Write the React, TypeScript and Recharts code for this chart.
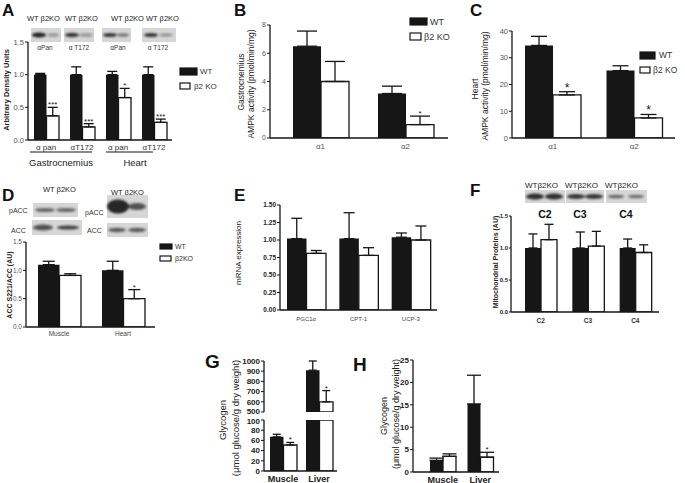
import React from "react";
import { BarChart, Bar, XAxis, YAxis, ErrorBar, LabelList } from "recharts";

const FONT = '"Liberation Sans", Arial, Helvetica, sans-serif';
const INK = "#161616";

// A: AMPK alpha protein (gastrocnemius, heart)
const aCats = ["α pan", "αT172", "α pan", "αT172"];
const aWt = [1.0, 1.0, 1.0, 1.0];
const aWtErr = [0.02, 0.12, 0.05, 0.12];
const aKo = [0.37, 0.2, 0.65, 0.27];
const aKoErr = [0.13, 0.05, 0.14, 0.05];
const aStars = ["***", "***", "*", "***"];
const aTicks = [0, 0.5, 1.0, 1.5];

// B: gastrocnemius AMPK activity
const bCats = ["α1", "α2"];
const bWt = [6.5, 3.15];
const bWtErr = [1.07, 0.52];
const bKo = [4.0, 0.95];
const bKoErr = [1.42, 0.6];
const bStars = ["", "*"];
const bTicks = [0, 2, 4, 6, 8];

// C: heart AMPK activity
const cCats = ["α1", "α2"];
const cWt = [34.6, 25.2];
const cWtErr = [3.4, 1.8];
const cKo = [16.1, 7.5];
const cKoErr = [1.2, 1.3];
const cStars = ["*", "*"];
const cTicks = [0, 10, 20, 30, 40];

// D: ACC S221/ACC
const dCats = ["Muscle", "Heart"];
const dWt = [1.1, 1.0];
const dWtErr = [0.06, 0.16];
const dKo = [0.91, 0.5];
const dKoErr = [0.03, 0.16];
const dStars = ["", "*"];
const dTicks = [0, 0.5, 1.0, 1.5];

// E: mRNA expression
const eCats = ["PGC1α", "CPT-1", "UCP-3"];
const eWt = [1.02, 1.02, 1.04];
const eWtErr = [0.29, 0.37, 0.06];
const eKo = [0.81, 0.78, 1.0];
const eKoErr = [0.04, 0.11, 0.2];
const eTicks = [0, 0.25, 0.5, 0.75, 1.0, 1.25, 1.5];

// F: mitochondrial proteins
const fCats = ["C2", "C3", "C4"];
const fWt = [1.0, 1.0, 1.0];
const fWtErr = [0.22, 0.25, 0.14];
const fKo = [1.13, 1.03, 0.93];
const fKoErr = [0.24, 0.23, 0.12];
const fTicks = [0, 0.5, 1.0, 1.5];

// G: glycogen (broken axis)
const gCats = ["Muscle", "Liver"];
const gWt = [67, 910];
const gWtErr = [5, 90];
const gKo = [51, 600];
const gKoErr = [5, 110];
const gStars = ["*", "*"];
const gTicksHigh = [500, 600, 700, 800, 900, 1000];
const gTicksLow = [0, 20, 40, 60, 80, 100];

// H: glycogen
const hCats = ["Muscle", "Liver"];
const hWt = [2.6, 15.2];
const hWtErr = [0.5, 6.4];
const hKo = [3.5, 3.3];
const hKoErr = [0.55, 1.1];
const hStars = ["", "*"];
const hTicks = [0, 5, 10, 15, 20, 25];

type Num = number | null;
type TextStyle = { size: number; bold?: boolean; color: string };

type PanelProps = {
  cats: string[];
  wt: Num[];
  wtErr: Num[];
  ko: Num[];
  koErr: Num[];
  stars?: string[];
  x0: number;
  y0: number;
  x1: number;
  y1: number;
  domain: [number, number];
  ticks: number[];
  digits: number;
  barSize: number;
  padL?: number;
  padR?: number;
  cap: number;
  tick: TextStyle & { len: number };
  cat?: TextStyle & { dy: number };
  starSize?: number;
  nudge?: Record<number, number>;
};

function Panel(p: PanelProps) {
  const YW = 44;
  const TOP = 14;
  const XH = 24;
  const RIGHT = 8;
  const data = p.cats.map((c, i) => ({
    i,
    wt: p.wt[i],
    ko: p.ko[i],
    wtErr: p.wt[i] == null || p.wtErr[i] == null ? null : [0, p.wtErr[i]],
    koErr: p.ko[i] == null || p.koErr[i] == null ? null : [0, p.koErr[i]],
    gap: p.ko[i] == null ? null : p.koErr[i] ?? 0,
    star: p.stars ? p.stars[i] : "",
  }));

  const yTick = (t: any) => (
    <text
      x={t.x}
      y={t.y + (p.nudge?.[t.payload.value] ?? 0)}
      dy="0.35em"
      textAnchor="end"
      fontSize={p.tick.size}
      fontWeight={p.tick.bold ? 700 : 400}
      fill={p.tick.color}
      fontFamily={FONT}
    >
      {Number(t.payload.value).toFixed(p.digits)}
    </text>
  );

  const xTick = (t: any) =>
    p.cat ? (
      <text
        x={t.x}
        y={t.y + p.cat.dy}
        textAnchor="middle"
        fontSize={p.cat.size}
        fontWeight={p.cat.bold ? 700 : 400}
        fill={p.cat.color}
        fontFamily={FONT}
      >
        {p.cats[t.payload.value]}
      </text>
    ) : (
      <g />
    );

  return (
    <div style={{ position: "absolute", left: p.x0 - YW, top: p.y0 - TOP }}>
      <BarChart
        width={p.x1 - p.x0 + YW + RIGHT}
        height={p.y1 - p.y0 + TOP + XH}
        data={data}
        margin={{ top: TOP, right: RIGHT, left: 0, bottom: 0 }}
        barGap={0}
        barSize={p.barSize}
      >
        <XAxis
          dataKey="i"
          type="category"
          interval={0}
          height={XH}
          padding={{ left: p.padL ?? 0, right: p.padR ?? 0 }}
          tickSize={0}
          tickMargin={0}
          tickLine={false}
          tick={xTick}
          axisLine={p.cat ? { stroke: INK, strokeWidth: 1.3 } : false}
        />
        <YAxis
          type="number"
          domain={p.domain}
          ticks={p.ticks}
          interval={0}
          allowDataOverflow
          width={YW}
          tickSize={p.tick.len}
          tickMargin={1}
          tick={yTick}
          tickLine={{ stroke: INK, strokeWidth: 1 }}
          axisLine={{ stroke: INK, strokeWidth: 1.3 }}
        />
        <Bar dataKey="wt" stackId="a_wt" fill={INK} isAnimationActive={false}>
          <ErrorBar dataKey="wtErr" width={p.cap} stroke={INK} strokeWidth={1.3} />
        </Bar>
        <Bar dataKey="ko" stackId="b_ko" fill="#fff" stroke={INK} strokeWidth={1.3} isAnimationActive={false}>
          <ErrorBar dataKey="koErr" width={p.cap} stroke={INK} strokeWidth={1.3} />
        </Bar>
        <Bar dataKey="gap" stackId="b_ko" fill="none" isAnimationActive={false}>
          <LabelList
            dataKey="star"
            position="top"
            offset={0}
            fill={INK}
            fontSize={p.starSize ?? 8}
            fontFamily={FONT}
          />
        </Bar>
      </BarChart>
    </div>
  );
}

// western-blot strip: bands are [x offset, rx, ry, darkness]
function Blot(props: { x: number; y: number; w: number; h: number; bands: number[][] }) {
  const { x, y, w, h, bands } = props;
  return (
    <g>
      <rect x={x} y={y} width={w} height={h} fill="#d6d6d6" />
      <g filter="url(#blur)">
        {bands.map((b, i) => (
          <ellipse key={i} cx={x + b[0]} cy={y + h / 2} rx={b[1]} ry={b[2]} fill="#1c1c1c" opacity={b[3]} />
        ))}
      </g>
    </g>
  );
}

function VText(props: { x: number; y: number; size: number; bold?: boolean; children: React.ReactNode }) {
  return (
    <text
      transform={`translate(${props.x},${props.y}) rotate(-90)`}
      textAnchor="middle"
      fontSize={props.size}
      fontWeight={props.bold ? 700 : 400}
      fill="#222"
    >
      {props.children}
    </text>
  );
}

function LegendKey(props: { x: number; y: number; w: number; h: number; filled: boolean; label: string; tx: number; size: number }) {
  return (
    <g>
      <rect
        x={props.x}
        y={props.y}
        width={props.w}
        height={props.h}
        fill={props.filled ? INK : "#fff"}
        stroke={INK}
        strokeWidth={1.2}
      />
      <text x={props.tx} y={props.y + props.h / 2} dy="0.35em" fontSize={props.size} fill="#333">
        {props.label}
      </text>
    </g>
  );
}

const tickGray = { size: 7.5, color: "#555", len: 3 };
const tickBold = { size: 8.5, bold: true, color: "#222", len: 3 };

export default function App() {
  const gHighWt = gWt.map((v) => (v > 500 ? v : null));
  const gHighKo = gKo.map((v) => (v > 500 ? v : null));
  const gHighWtErr = gWt.map((v, i) => (v > 500 ? gWtErr[i] : null));
  const gHighKoErr = gKo.map((v, i) => (v > 500 ? gKoErr[i] : null));
  const gHighStars = gKo.map((v, i) => (v > 500 ? gStars[i] : ""));
  const gLowWtErr = gWt.map((v, i) => (v <= 100 ? gWtErr[i] : null));
  const gLowKoErr = gKo.map((v, i) => (v <= 100 ? gKoErr[i] : null));
  const gLowStars = gKo.map((v, i) => (v <= 100 ? gStars[i] : ""));

  return (
    <div
      style={{
        position: "absolute",
        left: 0,
        top: 0,
        width: 685,
        height: 483,
        background: "#fff",
        fontFamily: FONT,
        overflow: "hidden",
      }}
    >
      <Panel
        cats={aCats} wt={aWt} wtErr={aWtErr} ko={aKo} koErr={aKoErr} stars={aStars}
        x0={28} y0={42} x1={172} y1={140} domain={[0, 1.5]} ticks={aTicks} digits={1}
        barSize={12.5} cap={5} tick={tickGray} starSize={8}
        cat={{ size: 8, color: "#333", dy: 10 }}
      />
      <Panel
        cats={bCats} wt={bWt} wtErr={bWtErr} ko={bKo} koErr={bKoErr} stars={bStars}
        x0={270} y0={25} x1={448} y1={138} padL={8} domain={[0, 8]} ticks={bTicks} digits={0}
        barSize={28} cap={10} tick={{ ...tickGray, size: 7 }} starSize={8}
        cat={{ size: 8, color: "#555", dy: 11 }}
      />
      <Panel
        cats={cCats} wt={cWt} wtErr={cWtErr} ko={cKo} koErr={cKoErr} stars={cStars}
        x0={512} y0={31} x1={675} y1={138} domain={[0, 40]} ticks={cTicks} digits={0}
        barSize={28} cap={8} tick={tickGray} starSize={12}
        cat={{ size: 8, color: "#555", dy: 11 }}
      />
      <Panel
        cats={dCats} wt={dWt} wtErr={dWtErr} ko={dKo} koErr={dKoErr} stars={dStars}
        x0={26} y0={242} x1={155} y1={327} padL={1} domain={[0, 1.5]} ticks={dTicks} digits={1}
        barSize={21.5} cap={6} tick={{ ...tickGray, size: 6.5 }} starSize={7}
        cat={{ size: 6.5, color: "#444", dy: 9 }}
      />
      <Panel
        cats={eCats} wt={eWt} wtErr={eWtErr} ko={eKo} koErr={eKoErr}
        x0={280} y0={205} x1={437} y1={310} domain={[0, 1.5]} ticks={eTicks} digits={2}
        barSize={19.5} cap={5.5} tick={{ ...tickBold, size: 6.5 }}
        cat={{ size: 6, color: "#444", dy: 11 }}
      />
      <Panel
        cats={fCats} wt={fWt} wtErr={fWtErr} ko={fKo} koErr={fKoErr}
        x0={511} y0={216} x1={659} y1={312} padL={6} domain={[0, 1.5]} ticks={fTicks} digits={1}
        barSize={16} cap={4.5} tick={{ ...tickBold, size: 6, len: 2 }}
        cat={{ size: 6.5, bold: true, color: "#333", dy: 11 }}
      />
      <Panel
        cats={gCats} wt={gHighWt} wtErr={gHighWtErr} ko={gHighKo} koErr={gHighKoErr} stars={gHighStars}
        x0={264} y0={361} x1={337} y1={412} padL={1} domain={[500, 1000]} ticks={gTicksHigh} digits={0}
        barSize={13.5} cap={4} tick={{ ...tickBold, size: 8 }} starSize={8} nudge={{ 500: -1.2 }}
      />
      <Panel
        cats={gCats} wt={gWt} wtErr={gLowWtErr} ko={gKo} koErr={gLowKoErr} stars={gLowStars}
        x0={264} y0={420} x1={337} y1={471} padL={1} domain={[0, 100]} ticks={gTicksLow} digits={0}
        barSize={13.5} cap={4} tick={{ ...tickBold, size: 8 }} starSize={8} nudge={{ 100: 1.2 }}
        cat={{ size: 9, bold: true, color: "#222", dy: 11 }}
      />
      <Panel
        cats={hCats} wt={hWt} wtErr={hWtErr} ko={hKo} koErr={hKoErr} stars={hStars}
        x0={413} y0={360} x1={499} y1={472} padL={11} domain={[0, 25]} ticks={hTicks} digits={0}
        barSize={13} cap={7} tick={{ ...tickBold, size: 8 }} starSize={8}
        cat={{ size: 9, bold: true, color: "#222", dy: 10.5 }}
      />

      <svg
        width={685}
        height={483}
        style={{ position: "absolute", left: 0, top: 0, pointerEvents: "none" }}
        fontFamily={FONT}
      >
        <defs>
          <filter id="blur" x="-30%" y="-60%" width="160%" height="220%">
            <feGaussianBlur stdDeviation="1.3" />
          </filter>
        </defs>

        {/* panel letters */}
        <g fontSize={17} fontWeight={700} fill="#111">
          <text x={2} y={16}>A</text>
          <text x={234} y={16}>B</text>
          <text x={470} y={16}>C</text>
          <text x={2} y={201}>D</text>
          <text x={234} y={201}>E</text>
          <text x={470} y={196}>F</text>
          <text x={205} y={368} fontSize={19}>G</text>
          <text x={353} y={371} fontSize={19}>H</text>
        </g>

        {/* A blots */}
        <g fontSize={7.5} fill="#222">
          <text x={27} y={21}>WT β2KO</text>
          <text x={65} y={21}>WT β2KO</text>
          <text x={111} y={21}>WT β2KO</text>
          <text x={146} y={21}>WT β2KO</text>
        </g>
        <Blot x={31} y={28} w={30} h={14} bands={[[8, 7, 2.5, 0.95], [22, 6, 1.8, 0.35]]} />
        <Blot x={64} y={28} w={30} h={14} bands={[[8, 7, 2.2, 0.85], [22, 7, 1.8, 0.35]]} />
        <Blot x={102} y={28} w={29} h={14} bands={[[8, 7, 2, 0.85], [21, 6, 1.8, 0.5]]} />
        <Blot x={142} y={28} w={34} h={14} bands={[[9, 7, 2, 0.85], [24, 7, 1.5, 0.4]]} />
        <g fontSize={6.5} fill="#333" textAnchor="middle">
          <text x={45} y={50}>αPan</text>
          <text x={79} y={50}>α T172</text>
          <text x={118} y={50}>αPan</text>
          <text x={158} y={50}>α T172</text>
        </g>
        <VText x={9} y={90} size={7.5} bold>Arbitrary Density Units</VText>
        <line x1={30} y1={152} x2={92} y2={152} stroke={INK} strokeWidth={1.2} />
        <line x1={106} y1={152} x2={153} y2={152} stroke={INK} strokeWidth={1.2} />
        <g fontSize={9.5} fill="#222" textAnchor="middle">
          <text x={61} y={166}>Gastrocnemius</text>
          <text x={135} y={166}>Heart</text>
        </g>
        <LegendKey x={180} y={68} w={17} h={7} filled label="WT" tx={200} size={8} />
        <LegendKey x={180} y={83} w={10} h={6} filled={false} label="β2 KO" tx={194} size={8} />

        {/* B */}
        <VText x={244} y={82} size={8.5}>Gastrocnemius</VText>
        <VText x={254} y={84} size={8.5}>AMPK activity (pmol/min/mg)</VText>
        <LegendKey x={410} y={18} w={17} h={7} filled label="WT" tx={430} size={9} />
        <LegendKey x={410} y={33} w={11} h={7} filled={false} label="β2 KO" tx={424} size={9} />

        {/* C */}
        <VText x={478} y={89} size={8.5}>Heart</VText>
        <VText x={488} y={86} size={8.5}>AMPK activity (pmol/min/mg)</VText>
        <LegendKey x={640} y={52} w={15} h={7} filled label="WT" tx={659} size={8.5} />
        <LegendKey x={640} y={67} w={10} h={6} filled={false} label="β2 KO" tx={653} size={8.5} />

        {/* D blots */}
        <g fontSize={7.5} fill="#222">
          <text x={43} y={192}>WT β2KO</text>
          <text x={111} y={195}>WT β2KO</text>
        </g>
        <g fontSize={7} fill="#333">
          <text x={9} y={213}>pACC</text>
          <text x={11} y={233}>ACC</text>
          <text x={85} y={215}>pACC</text>
          <text x={87} y={233}>ACC</text>
        </g>
        <Blot x={33} y={203} w={45} h={14} bands={[[12, 10, 2, 0.6], [33, 10, 2, 0.6]]} />
        <Blot x={32} y={220} w={50} h={15} bands={[[11, 10, 3, 0.7], [36, 11, 2, 0.8]]} />
        <Blot x={107} y={195} w={41} h={23} bands={[[11, 11, 7, 0.95], [30, 9, 3.5, 0.7]]} />
        <Blot x={107} y={223} w={41} h={14} bands={[[10, 9, 2.2, 0.65], [30, 9, 2.2, 0.65]]} />
        <VText x={12} y={285} size={7} bold>ACC S221/ACC (AU)</VText>
        <LegendKey x={160} y={244} w={12} h={5} filled label="WT" tx={175} size={7} />
        <LegendKey x={160} y={256} w={11} h={5} filled={false} label="β2KO" tx={175} size={7} />

        {/* E */}
        <VText x={241} y={253} size={8}>mRNA expression</VText>

        {/* F blots */}
        <g fontSize={8} fill="#222">
          <text x={525} y={188}>WTβ2KO</text>
          <text x={565} y={188}>WTβ2KO</text>
          <text x={605} y={188}>WTβ2KO</text>
        </g>
        <Blot x={525} y={190} w={40} h={13} bands={[[10, 9, 3, 0.9], [29, 9, 3, 0.9]]} />
        <Blot x={566} y={190} w={38} h={13} bands={[[10, 9, 2.5, 0.85], [28, 9, 2.5, 0.85]]} />
        <Blot x={606} y={190} w={41} h={13} bands={[[10, 8, 1.8, 0.6], [30, 8, 1.8, 0.55]]} />
        <g fontSize={10.5} fontWeight={700} fill="#111" textAnchor="middle">
          <text x={545} y={218}>C2</text>
          <text x={580} y={218}>C3</text>
          <text x={626} y={218}>C4</text>
        </g>
        <VText x={498} y={262} size={7} bold>Mitochondrial Proteins (AU)</VText>

        {/* G, H */}
        <VText x={226} y={420} size={9.5}>Glycogen</VText>
        <VText x={239} y={418} size={9.5}>(μmol glucose/g dry weight)</VText>
        <VText x={387} y={416} size={9}>Glycogen</VText>
        <VText x={399} y={414} size={9}>(μmol glucose/g dry weight)</VText>
      </svg>
    </div>
  );
}
